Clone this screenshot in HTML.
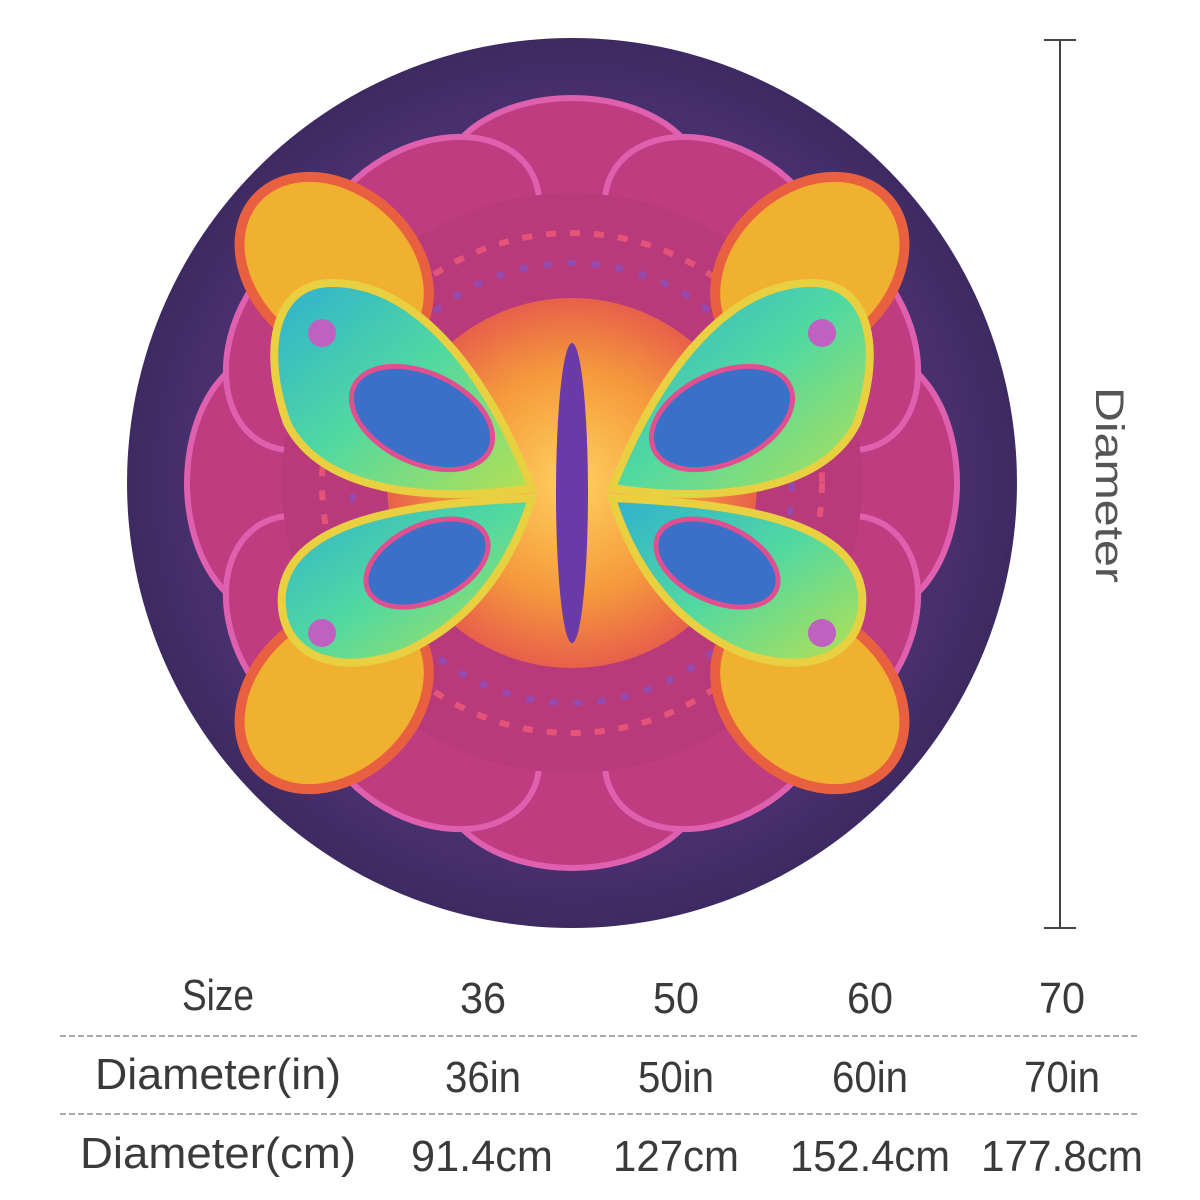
<!DOCTYPE html>
<html><head><style>html,body{margin:0;padding:0;background:#fff}svg{display:block}</style></head>
<body>
<svg width="1200" height="1200" viewBox="0 0 1200 1200" xmlns="http://www.w3.org/2000/svg">
<defs>
<radialGradient id="bg" cx="50%" cy="50%" r="50%"><stop offset="0.85" stop-color="#48306e"/><stop offset="1" stop-color="#3e2a62"/></radialGradient>
<radialGradient id="sun" cx="50%" cy="50%" r="50%"><stop offset="0" stop-color="#ffd060"/><stop offset="0.6" stop-color="#f59a3c"/><stop offset="1" stop-color="#e8604a"/></radialGradient>
<linearGradient id="wing" x1="0" y1="0" x2="1" y2="1"><stop offset="0" stop-color="#2fb0d0"/><stop offset="0.5" stop-color="#52d9a0"/><stop offset="1" stop-color="#b8e050"/></linearGradient>
</defs>
<circle cx="572" cy="483" r="445" fill="url(#bg)"/>
<g transform="translate(572,483)">
  <g fill="#c03c80" stroke="#e060b0" stroke-width="6">
    <ellipse cx="0" cy="-300" rx="130" ry="85"/>
    <ellipse cx="0" cy="300" rx="130" ry="85"/>
    <ellipse cx="-300" cy="0" rx="85" ry="130"/>
    <ellipse cx="300" cy="0" rx="85" ry="130"/>
    <ellipse cx="0" cy="-290" rx="120" ry="85" transform="rotate(30)"/>
    <ellipse cx="0" cy="-290" rx="120" ry="85" transform="rotate(-30)"/>
    <ellipse cx="0" cy="290" rx="120" ry="85" transform="rotate(30)"/>
    <ellipse cx="0" cy="290" rx="120" ry="85" transform="rotate(-30)"/>
    <ellipse cx="0" cy="-290" rx="120" ry="85" transform="rotate(60)"/>
    <ellipse cx="0" cy="-290" rx="120" ry="85" transform="rotate(-60)"/>
    <ellipse cx="0" cy="290" rx="120" ry="85" transform="rotate(60)"/>
    <ellipse cx="0" cy="290" rx="120" ry="85" transform="rotate(-60)"/>
  </g>
  <circle r="290" fill="#b83a7a"/>
  <g stroke="#f05a78" stroke-width="6" fill="none" opacity="0.8">
    <circle r="250" stroke-dasharray="10,14"/>
    <circle r="220" stroke-dasharray="8,16" stroke="#8a50c0"/>
  </g>
  <g fill="#f0b030" stroke="#e86040" stroke-width="10">
    <ellipse cx="0" cy="-320" rx="80" ry="105" transform="rotate(48)"/>
    <ellipse cx="0" cy="-320" rx="80" ry="105" transform="rotate(-48)"/>
    <ellipse cx="0" cy="-320" rx="80" ry="105" transform="rotate(132)"/>
    <ellipse cx="0" cy="-320" rx="80" ry="105" transform="rotate(-132)"/>
  </g>
  <circle r="185" fill="url(#sun)"/>
  <g fill="url(#wing)" stroke="#e8d040" stroke-width="8">
    <path d="M-40,5 C-90,-120 -160,-200 -240,-200 C-300,-200 -310,-130 -285,-60 C-250,10 -140,20 -40,5Z"/>
    <path d="M40,5 C90,-120 160,-200 240,-200 C300,-200 310,-130 285,-60 C250,10 140,20 40,5Z"/>
    <path d="M-40,15 C-140,20 -280,30 -290,110 C-295,170 -240,195 -170,170 C-100,140 -60,80 -40,15Z"/>
    <path d="M40,15 C140,20 280,30 290,110 C295,170 240,195 170,170 C100,140 60,80 40,15Z"/>
  </g>
  <g fill="#3a70c8" stroke="#e05090" stroke-width="5">
    <ellipse cx="-150" cy="-65" rx="75" ry="45" transform="rotate(25 -150 -65)"/>
    <ellipse cx="150" cy="-65" rx="75" ry="45" transform="rotate(-25 150 -65)"/>
    <ellipse cx="-145" cy="80" rx="65" ry="38" transform="rotate(-25 -145 80)"/>
    <ellipse cx="145" cy="80" rx="65" ry="38" transform="rotate(25 145 80)"/>
  </g>
  <g fill="#c060c0">
    <circle cx="-250" cy="-150" r="14"/><circle cx="250" cy="-150" r="14"/>
    <circle cx="-250" cy="150" r="14"/><circle cx="250" cy="150" r="14"/>
  </g>
  <ellipse cx="0" cy="10" rx="16" ry="150" fill="#6a3aa8"/>
</g>
<g stroke="#444" stroke-width="2">
  <line x1="1060" y1="40" x2="1060" y2="928"/>
  <line x1="1044" y1="40" x2="1076" y2="40"/>
  <line x1="1044" y1="928" x2="1076" y2="928"/>
</g>
<text transform="translate(1096,485) rotate(90)" text-anchor="middle" font-family="Liberation Sans, sans-serif" font-size="40" fill="#555" textLength="196" lengthAdjust="spacingAndGlyphs">Diameter</text>
<g stroke="#aaa" stroke-width="2" stroke-dasharray="6,3">
  <line x1="60" y1="1036" x2="1140" y2="1036"/>
  <line x1="60" y1="1114" x2="1140" y2="1114"/>
</g>
<g font-family="Liberation Sans Narrow, Liberation Sans, sans-serif" font-size="44" fill="#3a3a3a" text-anchor="middle">
  <text x="218" y="1010" textLength="72" lengthAdjust="spacingAndGlyphs">Size</text>
  <text x="483" y="1013" textLength="46" lengthAdjust="spacingAndGlyphs">36</text>
  <text x="676" y="1013" textLength="46" lengthAdjust="spacingAndGlyphs">50</text>
  <text x="870" y="1013" textLength="46" lengthAdjust="spacingAndGlyphs">60</text>
  <text x="1062" y="1013" textLength="46" lengthAdjust="spacingAndGlyphs">70</text>
  <text x="218" y="1089" textLength="246" lengthAdjust="spacingAndGlyphs">Diameter(in)</text>
  <text x="483" y="1092" textLength="76" lengthAdjust="spacingAndGlyphs">36in</text>
  <text x="676" y="1092" textLength="76" lengthAdjust="spacingAndGlyphs">50in</text>
  <text x="870" y="1092" textLength="76" lengthAdjust="spacingAndGlyphs">60in</text>
  <text x="1062" y="1092" textLength="76" lengthAdjust="spacingAndGlyphs">70in</text>
  <text x="218" y="1168" textLength="276" lengthAdjust="spacingAndGlyphs">Diameter(cm)</text>
  <text x="482" y="1171" textLength="142" lengthAdjust="spacingAndGlyphs">91.4cm</text>
  <text x="676" y="1171" textLength="126" lengthAdjust="spacingAndGlyphs">127cm</text>
  <text x="870" y="1171" textLength="160" lengthAdjust="spacingAndGlyphs">152.4cm</text>
  <text x="1062" y="1171" textLength="162" lengthAdjust="spacingAndGlyphs">177.8cm</text>
</g>
</svg>
</body></html>
